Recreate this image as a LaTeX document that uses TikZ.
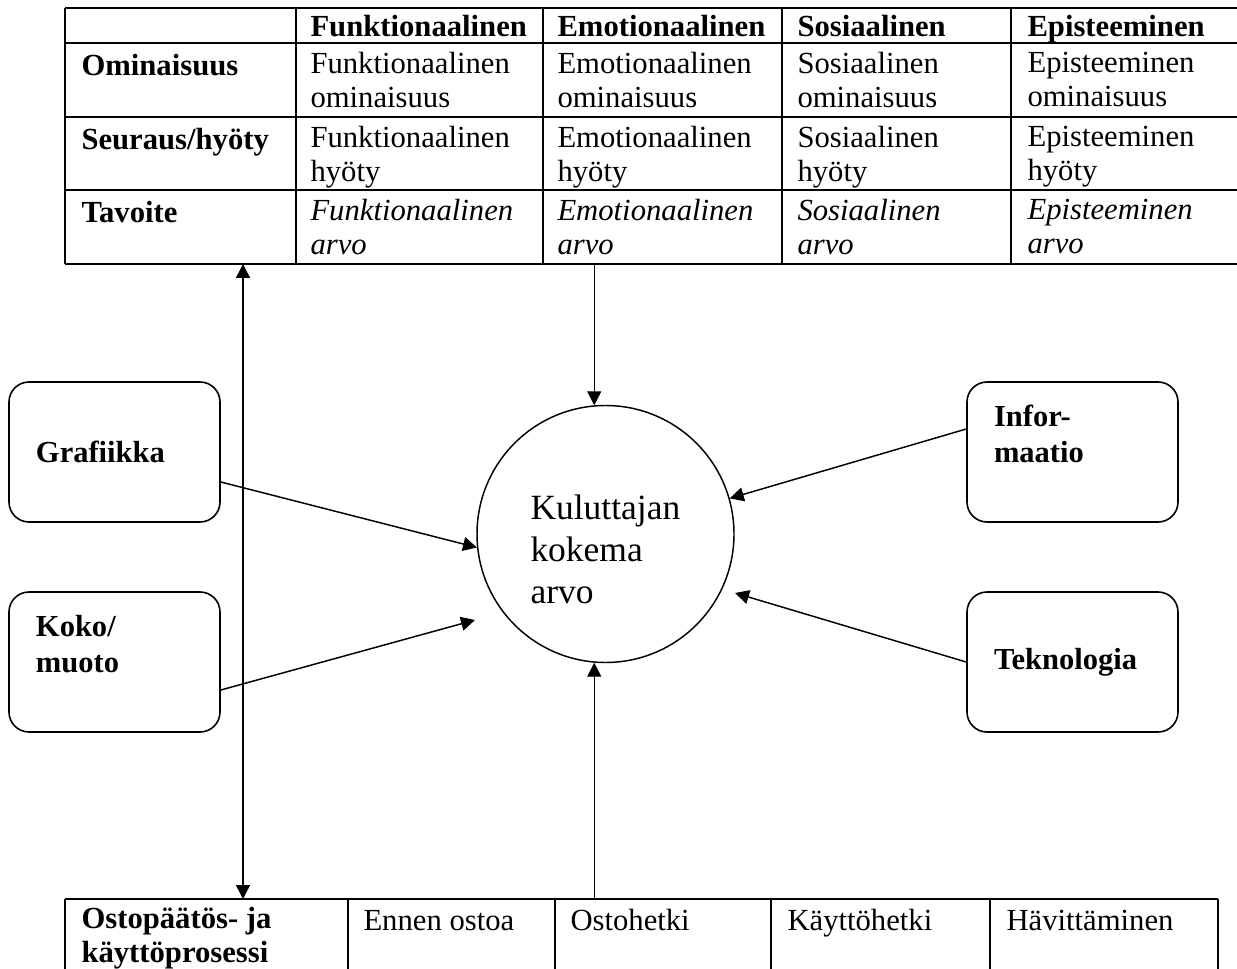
\documentclass[tikz,border=0pt]{standalone}
\usepackage{fontspec}
\setmainfont{Liberation Serif}
\usetikzlibrary{arrows.meta,calc}

\newcommand{\solufont}{\fontsize{23pt}{25pt}\selectfont}
\newcommand{\piirifont}{\fontsize{26.6pt}{31.6pt}\selectfont}
\newcommand{\laatikkofont}{\fontsize{22.9pt}{27pt}\selectfont}

\tikzset{every picture/.style={line width=0.75pt}}
\tikzset{
  viiva/.style={line width=1.7pt},
  solu/.style={anchor=north west, inner sep=0pt, align=left, font=\solufont, execute at begin node={\strut}},
  otsake/.style={solu, font=\solufont\bfseries},
  kursiivi/.style={solu, font=\solufont\itshape},
  tekija/.style={draw, line width=1.2pt, rounded corners=15pt, minimum width=158.25pt, minimum height=105pt, inner xsep=20.25pt, inner ysep=0pt, text width=117.75pt, align=left, font=\laatikkofont\bfseries},
  arvopiiri/.style={draw, circle, line width=1.1pt, minimum size=192.75pt, inner sep=0pt},
  nuoli/.style={line width=1.1pt, -{Triangle[length=10.5pt,width=10.5pt]}},
  tuplanuoli/.style={line width=1.1pt, {Triangle[length=10.5pt,width=10.5pt]}-{Triangle[length=10.5pt,width=10.5pt]}},
}

\begin{document}
\begin{tikzpicture}[x=0.75pt,y=0.75pt,yscale=-1,xscale=1]
\useasboundingbox (0,0) rectangle (1237,969);

%Table: arvon ulottuvuudet
\draw [viiva] (65,8) -- (1240,8) ;
\draw [viiva] (65,43) -- (1240,43) ;
\draw [viiva] (65,117) -- (1240,117) ;
\draw [viiva] (65,190) -- (1240,190) ;
\draw [viiva] (65,264) -- (1240,264) ;
\draw [viiva] (65,8) -- (65,264) ;
\draw [viiva] (296,8) -- (296,264) ;
\draw [viiva] (543,8) -- (543,264) ;
\draw [viiva] (782,8) -- (782,264) ;
\draw [viiva] (1011,8) -- (1011,264) ;

% Text Node
\node [otsake] (hfunk) at (310,13) {Funktionaalinen};
\node [otsake] (hemo) at (557,13) {Emotionaalinen};
\node [otsake] (hsos) at (797,13) {Sosiaalinen};
\node [otsake] (hepi) at (1027,13) {Episteeminen};
% Text Node
\node [otsake] (omin) at (81,52) {Ominaisuus};
\node [solu] (ofunk) at (310,52) {Funktionaalinen\\ominaisuus};
\node [solu] (oemo) at (557,52) {Emotionaalinen\\ominaisuus};
\node [solu] (osos) at (797,52) {Sosiaalinen\\ominaisuus};
\node [solu] (oepi) at (1027,52) {Episteeminen\\ominaisuus};
% Text Node
\node [otsake] (seur) at (81,126) {Seuraus/hyöty};
\node [solu] (sfunk) at (310,126) {Funktionaalinen\\hyöty};
\node [solu] (semo) at (557,126) {Emotionaalinen\\hyöty};
\node [solu] (ssos) at (797,126) {Sosiaalinen\\hyöty};
\node [solu] (sepi) at (1027,126) {Episteeminen\\hyöty};
% Text Node
\node [otsake] (tavo) at (81,199) {Tavoite};
\node [kursiivi] (tfunk) at (310,199) {Funktionaalinen\\arvo};
\node [kursiivi] (temo) at (557,199) {Emotionaalinen\\arvo};
\node [kursiivi] (tsos) at (797,199) {Sosiaalinen\\arvo};
\node [kursiivi] (tepi) at (1027,199) {Episteeminen\\arvo};

%Table: ostoprosessi
\draw [viiva] (65,899) -- (1218,899) ;
\draw [viiva] (65,899) -- (65,975) ;
\draw [viiva] (348,899) -- (348,975) ;
\draw [viiva] (555,899) -- (555,975) ;
\draw [viiva] (771,899) -- (771,975) ;
\draw [viiva] (990,899) -- (990,975) ;
\draw [viiva] (1218,899) -- (1218,975) ;

% Text Node
\node [otsake] (prosessi) at (81,907) {Ostopäätös- ja\\käyttöprosessi};
\node [solu] (ennen) at (363,907) {Ennen ostoa};
\node [solu] (osto) at (570,907) {Ostohetki};
\node [solu] (kaytto) at (787,907) {Käyttöhetki};
\node [solu] (havitys) at (1006,907) {Hävittäminen};

%Shape: Circle
\node [arvopiiri] (arvo) at (605.5,534) {};
\node [anchor=north west, inner sep=0pt, align=left, font=\piirifont, execute at begin node={\strut}] (arvoteksti) at (530,494) {Kuluttajan\\kokema\\arvo};

%Shape: Rounded Rect
\node [tekija] (grafiikka) at (114.5,452) {Grafiikka};
\node [tekija] (koko) at (114.5,662) {Koko/\\muoto\\\mbox{}};
\node [tekija] (informaatio) at (1072.5,452) {Infor-\\maatio\\\mbox{}};
\node [tekija] (teknologia) at (1072.5,662) {Teknologia};

\coordinate (taulunala) at (594,264);
\coordinate (prosessinyla) at (594,899);
\coordinate (vasenyla) at (243,264);
\coordinate (vasenala) at (243,899);
\coordinate (kokokarki) at (475,620);
\coordinate (teknokarki) at (735,593);

%Straight Lines
\draw [nuoli] (arvo.95 |- taulunala) -- (arvo.95) ;
\draw [nuoli] (arvo.265 |- prosessinyla) -- (arvo.265) ;
\draw [tuplanuoli] (vasenyla) -- (vasenala) ;
\draw [nuoli] ($(grafiikka.east)+(0,30)$) -- (arvo.186) ;
\draw [nuoli] ($(koko.east)+(0,28)$) -- (kokokarki) ;
\draw [nuoli] ($(informaatio.west)+(0,-23)$) -- (arvo.16) ;
\draw [nuoli] (teknologia.west) -- (teknokarki) ;

\end{tikzpicture}
\end{document}
